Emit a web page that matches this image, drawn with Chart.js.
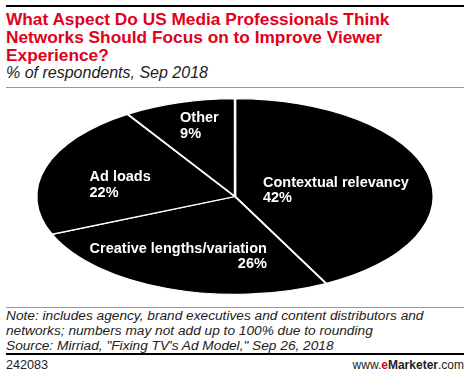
<!DOCTYPE html>
<html>
<head>
<meta charset="utf-8">
<script src="https://cdn.jsdelivr.net/npm/chart.js@4"></script>
<style>
  html, body { margin: 0; padding: 0; background: #fff; }
  body { width: 470px; height: 376px; position: relative; overflow: hidden; font-family: "Liberation Sans", Arial, sans-serif; }
  .rule-top { position: absolute; left: 6px; top: 5px; width: 458px; height: 2px; background: #000; }
  .title { position: absolute; left: 6px; top: 11px; font-weight: bold; font-size: 17.3px; line-height: 17.8px; color: #e2001a; }
  .subtitle { position: absolute; left: 6px; top: 64px; font-style: italic; font-size: 16px; color: #222; }
  .rule-mid { position: absolute; left: 6px; top: 87px; width: 458px; height: 1px; background: #999; }
  #wrap { position: absolute; left: 0; top: 98px; width: 470px; height: 197px; }
  .rule-note { position: absolute; left: 6px; top: 307px; width: 458px; height: 1px; background: #999; }
  .note { position: absolute; left: 6px; top: 308px; font-style: italic; font-size: 13.7px; line-height: 15px; color: #222; }
  .rule-bot { position: absolute; left: 6px; top: 353px; width: 458px; height: 2px; background: #000; }
  .id { position: absolute; left: 6px; top: 358px; font-size: 12.6px; color: #222; }
  .brand { position: absolute; right: 6px; top: 358px; font-size: 12px; color: #222; }
  .brand b { font-weight: bold; }
  .brand .e { color: #e2001a; }
</style>
</head>
<body>
<div class="rule-top"></div>
<div class="title">What Aspect Do US Media Professionals Think<br>Networks Should Focus on to Improve Viewer<br>Experience?</div>
<div class="subtitle">% of respondents, Sep 2018</div>
<div class="rule-mid"></div>
<div id="wrap"><canvas id="chart"></canvas></div>
<div class="rule-note"></div>
<div class="note">Note: includes agency, brand executives and content distributors and<br>networks; numbers may not add up to 100% due to rounding<br>Source: Mirriad, "Fixing TV's Ad Model," Sep 26, 2018</div>
<div class="rule-bot"></div>
<div class="id">242083</div>
<div class="brand">www.<b class="e">e</b><b>Marketer</b>.com</div>
<script>
const categories = ['Contextual relevancy', 'Creative lengths/variation', 'Ad loads', 'Other'];
const shares = [42, 26, 22, 9];

const xStretch = 2.03;
// label placement: nudge from the slice centroid, and how the % line aligns
const labelNudge = [[-15, 8], [-16, 5], [-1, 6], [-2, -14]];
const labelAlign = ['left', 'right', 'left', 'left'];

// squash the round pie into a wide ellipse
const ellipse = {
    id: 'ellipse',
    beforeDatasetsDraw(chart) {
        const ctx = chart.ctx;
        const cx = (chart.chartArea.left + chart.chartArea.right) / 2;
        ctx.save();
        ctx.translate(cx, 0);
        ctx.scale(xStretch, 1);
        ctx.translate(-cx, 0);
    },
    afterDatasetsDraw(chart) {
        chart.ctx.restore();
    },
    afterDraw(chart) {
        const ctx = chart.ctx;
        const arcs = chart.getDatasetMeta(0).data;
        ctx.save();
        ctx.fillStyle = '#fff';
        ctx.font = 'bold 14.5px "Liberation Sans", Arial, sans-serif';
        ctx.textBaseline = 'middle';
        arcs.forEach((arc, i) => {
            const mid = (arc.startAngle + arc.endAngle) / 2;
            const r = arc.outerRadius * 0.6;
            const x = arc.x + Math.cos(mid) * r * xStretch + labelNudge[i][0];
            const y = arc.y + Math.sin(mid) * r + labelNudge[i][1];
            const line1 = categories[i];
            const line2 = shares[i] + '%';
            const w = ctx.measureText(line1).width;
            const left = x - w / 2;
            ctx.textAlign = 'left';
            ctx.fillText(line1, left, y - 7.75);
            if (labelAlign[i] === 'right') {
                ctx.textAlign = 'right';
                ctx.fillText(line2, left + w, y + 7.75);
            } else {
                ctx.fillText(line2, left, y + 7.75);
            }
        });
        ctx.restore();
    }
};

new Chart(document.getElementById('chart'), {
    type: 'pie',
    data: {
        labels: categories,
        datasets: [{
            data: shares,
            backgroundColor: '#000',
            borderColor: '#fff',
            borderWidth: 1.2
        }]
    },
    options: {
        responsive: true,
        maintainAspectRatio: false,
        animation: false,
        layout: { padding: 0 },
        plugins: {
            legend: { display: false },
            tooltip: { enabled: false }
        }
    },
    plugins: [ellipse]
});
</script>
</body>
</html>
